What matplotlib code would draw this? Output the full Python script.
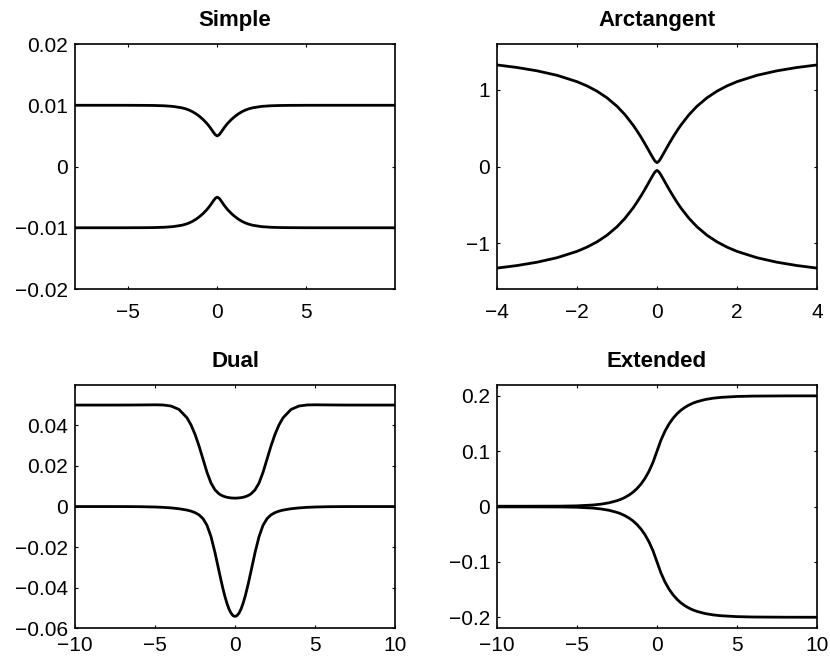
import matplotlib
matplotlib.use("Agg")
import matplotlib.pyplot as plt

plt.rcParams['font.family'] = ['Liberation Sans', 'DejaVu Sans']

# 1. DATA

simple_x = [-8, -6, -5, -4, -3.5, -3, -2.5, -2, -1.8, -1.6, -1.4, -1.2, -1.0, -0.8,
            -0.6, -0.5, -0.4, -0.3, -0.2, -0.1, 0, 0.1, 0.2, 0.3, 0.4, 0.5, 0.6,
            0.8, 1.0, 1.2, 1.4, 1.6, 1.8, 2.0, 2.5, 3.0, 3.5, 4, 5, 6, 8, 10]
simple_upper = [0.01, 0.01, 0.009997, 0.009983, 0.009963, 0.009918, 0.009817,
                0.009592, 0.009441, 0.009235, 0.008963, 0.008616, 0.00819,
                0.007686, 0.007089, 0.006745, 0.006364, 0.005951, 0.00553,
                0.005166, 0.005, 0.005166, 0.00553, 0.005951, 0.006364,
                0.006745, 0.007089, 0.007686, 0.00819, 0.008616, 0.008963,
                0.009235, 0.009441, 0.009592, 0.009817, 0.009918, 0.009963,
                0.009983, 0.009997, 0.01, 0.01, 0.01]
simple_lower = [-0.01, -0.01, -0.009997, -0.009983, -0.009963, -0.009918, -0.009817,
                -0.009592, -0.009441, -0.009235, -0.008963, -0.008616, -0.00819,
                -0.007686, -0.007089, -0.006745, -0.006364, -0.005951, -0.00553,
                -0.005166, -0.005, -0.005166, -0.00553, -0.005951, -0.006364,
                -0.006745, -0.007089, -0.007686, -0.00819, -0.008616, -0.008963,
                -0.009235, -0.009441, -0.009592, -0.009817, -0.009918, -0.009963,
                -0.009983, -0.009997, -0.01, -0.01, -0.01]

atan_x = [-4, -3.5, -3, -2.5, -2, -1.75, -1.5, -1.25, -1, -0.8, -0.6, -0.5, -0.4,
          -0.3, -0.25, -0.2, -0.15, -0.1, -0.05, 0, 0.05, 0.1, 0.15, 0.2, 0.25,
          0.3, 0.4, 0.5, 0.6, 0.8, 1, 1.25, 1.5, 1.75, 2, 2.5, 3, 3.5, 4]
atan_upper = [1.3268, 1.2935, 1.25, 1.1913, 1.1083, 1.0528, 0.9841, 0.8975, 0.787,
              0.6766, 0.5427, 0.4663, 0.3838, 0.2957, 0.25, 0.2036, 0.1571, 0.1115,
              0.0707, 0.05, 0.0707, 0.1115, 0.1571, 0.2036, 0.25, 0.2957, 0.3838,
              0.4663, 0.5427, 0.6766, 0.787, 0.8975, 0.9841, 1.0528, 1.1083,
              1.1913, 1.25, 1.2935, 1.3268]
atan_lower = [-1.3268, -1.2935, -1.25, -1.1913, -1.1083, -1.0528, -0.9841, -0.8975,
              -0.787, -0.6766, -0.5427, -0.4663, -0.3838, -0.2957, -0.25, -0.2036,
              -0.1571, -0.1115, -0.0707, -0.05, -0.0707, -0.1115, -0.1571, -0.2036,
              -0.25, -0.2957, -0.3838, -0.4663, -0.5427, -0.6766, -0.787, -0.8975,
              -0.9841, -1.0528, -1.1083, -1.1913, -1.25, -1.2935, -1.3268]

dual_x = [-10, -8, -7, -6, -5, -4.5, -4, -3.5, -3, -2.75, -2.5, -2.25, -2, -1.75,
          -1.5, -1.25, -1, -0.875, -0.75, -0.625, -0.5, -0.375, -0.25, -0.125, 0,
          0.125, 0.25, 0.375, 0.5, 0.625, 0.75, 0.875, 1, 1.25, 1.5, 1.75, 2,
          2.25, 2.5, 2.75, 3, 3.5, 4, 4.5, 5, 6, 7, 8, 10]
dual_upper = [0.05, 0.050002, 0.050013, 0.050056, 0.050133, 0.050051, 0.049533,
              0.047842, 0.043702, 0.040224, 0.035608, 0.02987, 0.023338, 0.016836,
              0.011579, 0.008196, 0.006267, 0.005646, 0.005179, 0.004828, 0.004568,
              0.00438, 0.004253, 0.004179, 0.004155, 0.004179, 0.004253, 0.00438,
              0.004568, 0.004828, 0.005179, 0.005646, 0.006267, 0.008196, 0.011579,
              0.016836, 0.023338, 0.02987, 0.035608, 0.040224, 0.043702, 0.047842,
              0.049533, 0.050051, 0.050133, 0.050056, 0.050013, 0.050002, 0.05]
dual_lower = [0.0, -0.000002, -0.000013, -0.000056, -0.000224, -0.000396, -0.000666,
              -0.001081, -0.001748, -0.00226, -0.002985, -0.0041, -0.005966,
              -0.009257, -0.014839, -0.022761, -0.031845, -0.036352, -0.040607,
              -0.044468, -0.047807, -0.050519, -0.052518, -0.053743, -0.054155,
              -0.053743, -0.052518, -0.050519, -0.047807, -0.044468, -0.040607,
              -0.036352, -0.031845, -0.022761, -0.014839, -0.009257, -0.005966,
              -0.0041, -0.002985, -0.00226, -0.001748, -0.001081, -0.000666,
              -0.000396, -0.000224, -0.000056, -0.000013, -0.000002, 0.0]

ext_x = [-10, -8, -6, -5, -4, -3.5, -3, -2.5, -2.25, -2, -1.75, -1.5, -1.25, -1,
         -0.75, -0.5, -0.25, 0, 0.25, 0.5, 0.75, 1, 1.25, 1.5, 1.75, 2, 2.25, 2.5,
         3, 3.5, 4, 5, 6, 8, 10]
ext_upper = [0.0006, 0.000605, 0.000751, 0.001263, 0.002797, 0.004327, 0.006748,
             0.010557, 0.013213, 0.01654, 0.02071, 0.02593, 0.03247, 0.04066,
             0.05092, 0.06376, 0.07985, 0.1, 0.12015, 0.13624, 0.14908, 0.15934,
             0.16754, 0.17408, 0.1793, 0.18347, 0.1868, 0.18946, 0.19328, 0.19572,
             0.19727, 0.19889, 0.19955, 0.19993, 0.2]
ext_lower = [-0.0006, -0.000605, -0.000751, -0.001263, -0.002797, -0.004327,
             -0.006748, -0.010557, -0.013213, -0.01654, -0.02071, -0.02593,
             -0.03247, -0.04066, -0.05092, -0.06376, -0.07985, -0.1, -0.12015,
             -0.13624, -0.14908, -0.15934, -0.16754, -0.17408, -0.1793, -0.18347,
             -0.1868, -0.18946, -0.19328, -0.19572, -0.19727, -0.19889, -0.19955,
             -0.19993, -0.2]

titles = ['Simple', 'Arctangent', 'Dual', 'Extended']

# 2. FIGURE

fig = plt.figure(figsize=(8.3, 6.6), dpi=100)

panels = [
    # title, rect, x, upper, lower, xlim, ylim, xticks, yticks, x label pad
    (titles[0], [0.0904, 0.5621, 0.3855, 0.3712], simple_x, simple_upper, simple_lower,
     (-8, 10), (-0.02, 0.02), [-5, 0, 5], [-0.02, -0.01, 0, 0.01, 0.02], 10),
    (titles[1], [0.5988, 0.5621, 0.3855, 0.3712], atan_x, atan_upper, atan_lower,
     (-4, 4), (-1.6, 1.6), [-4, -2, 0, 2, 4], [-1, 0, 1], 10),
    (titles[2], [0.0904, 0.0480, 0.3855, 0.3690], dual_x, dual_upper, dual_lower,
     (-10, 10), (-0.06, 0.06), [-10, -5, 0, 5, 10], [-0.06, -0.04, -0.02, 0, 0.02, 0.04], 5.5),
    (titles[3], [0.5988, 0.0480, 0.3855, 0.3690], ext_x, ext_upper, ext_lower,
     (-10, 10), (-0.22, 0.22), [-10, -5, 0, 5, 10], [-0.2, -0.1, 0, 0.1, 0.2], 5.5),
]

for title, rect, xs, up, lo, xlim, ylim, xt, yt, xpad in panels:
    ax = fig.add_axes(rect)
    ax.plot(xs, up, color='black', linewidth=2.0)
    ax.plot(xs, lo, color='black', linewidth=2.0)
    ax.set_xlim(*xlim)
    ax.set_ylim(*ylim)
    ax.set_xticks(xt)
    ax.set_yticks(yt)
    ax.set_yticklabels([('%g' % v).replace('-', '\u2212') for v in yt])
    ax.set_xticklabels([('%g' % v).replace('-', '\u2212') for v in xt])
    ax.tick_params(direction='in', top=True, right=True, length=2.5, width=0.8,
                   labelsize=15)
    ax.tick_params(axis='x', pad=xpad)
    ax.tick_params(axis='y', pad=5)
    for s in ax.spines.values():
        s.set_linewidth(1.2)
    ax.set_title(title, fontsize=16, fontweight='bold', pad=13)

plt.savefig("out.png", dpi=100)
plt.close()
